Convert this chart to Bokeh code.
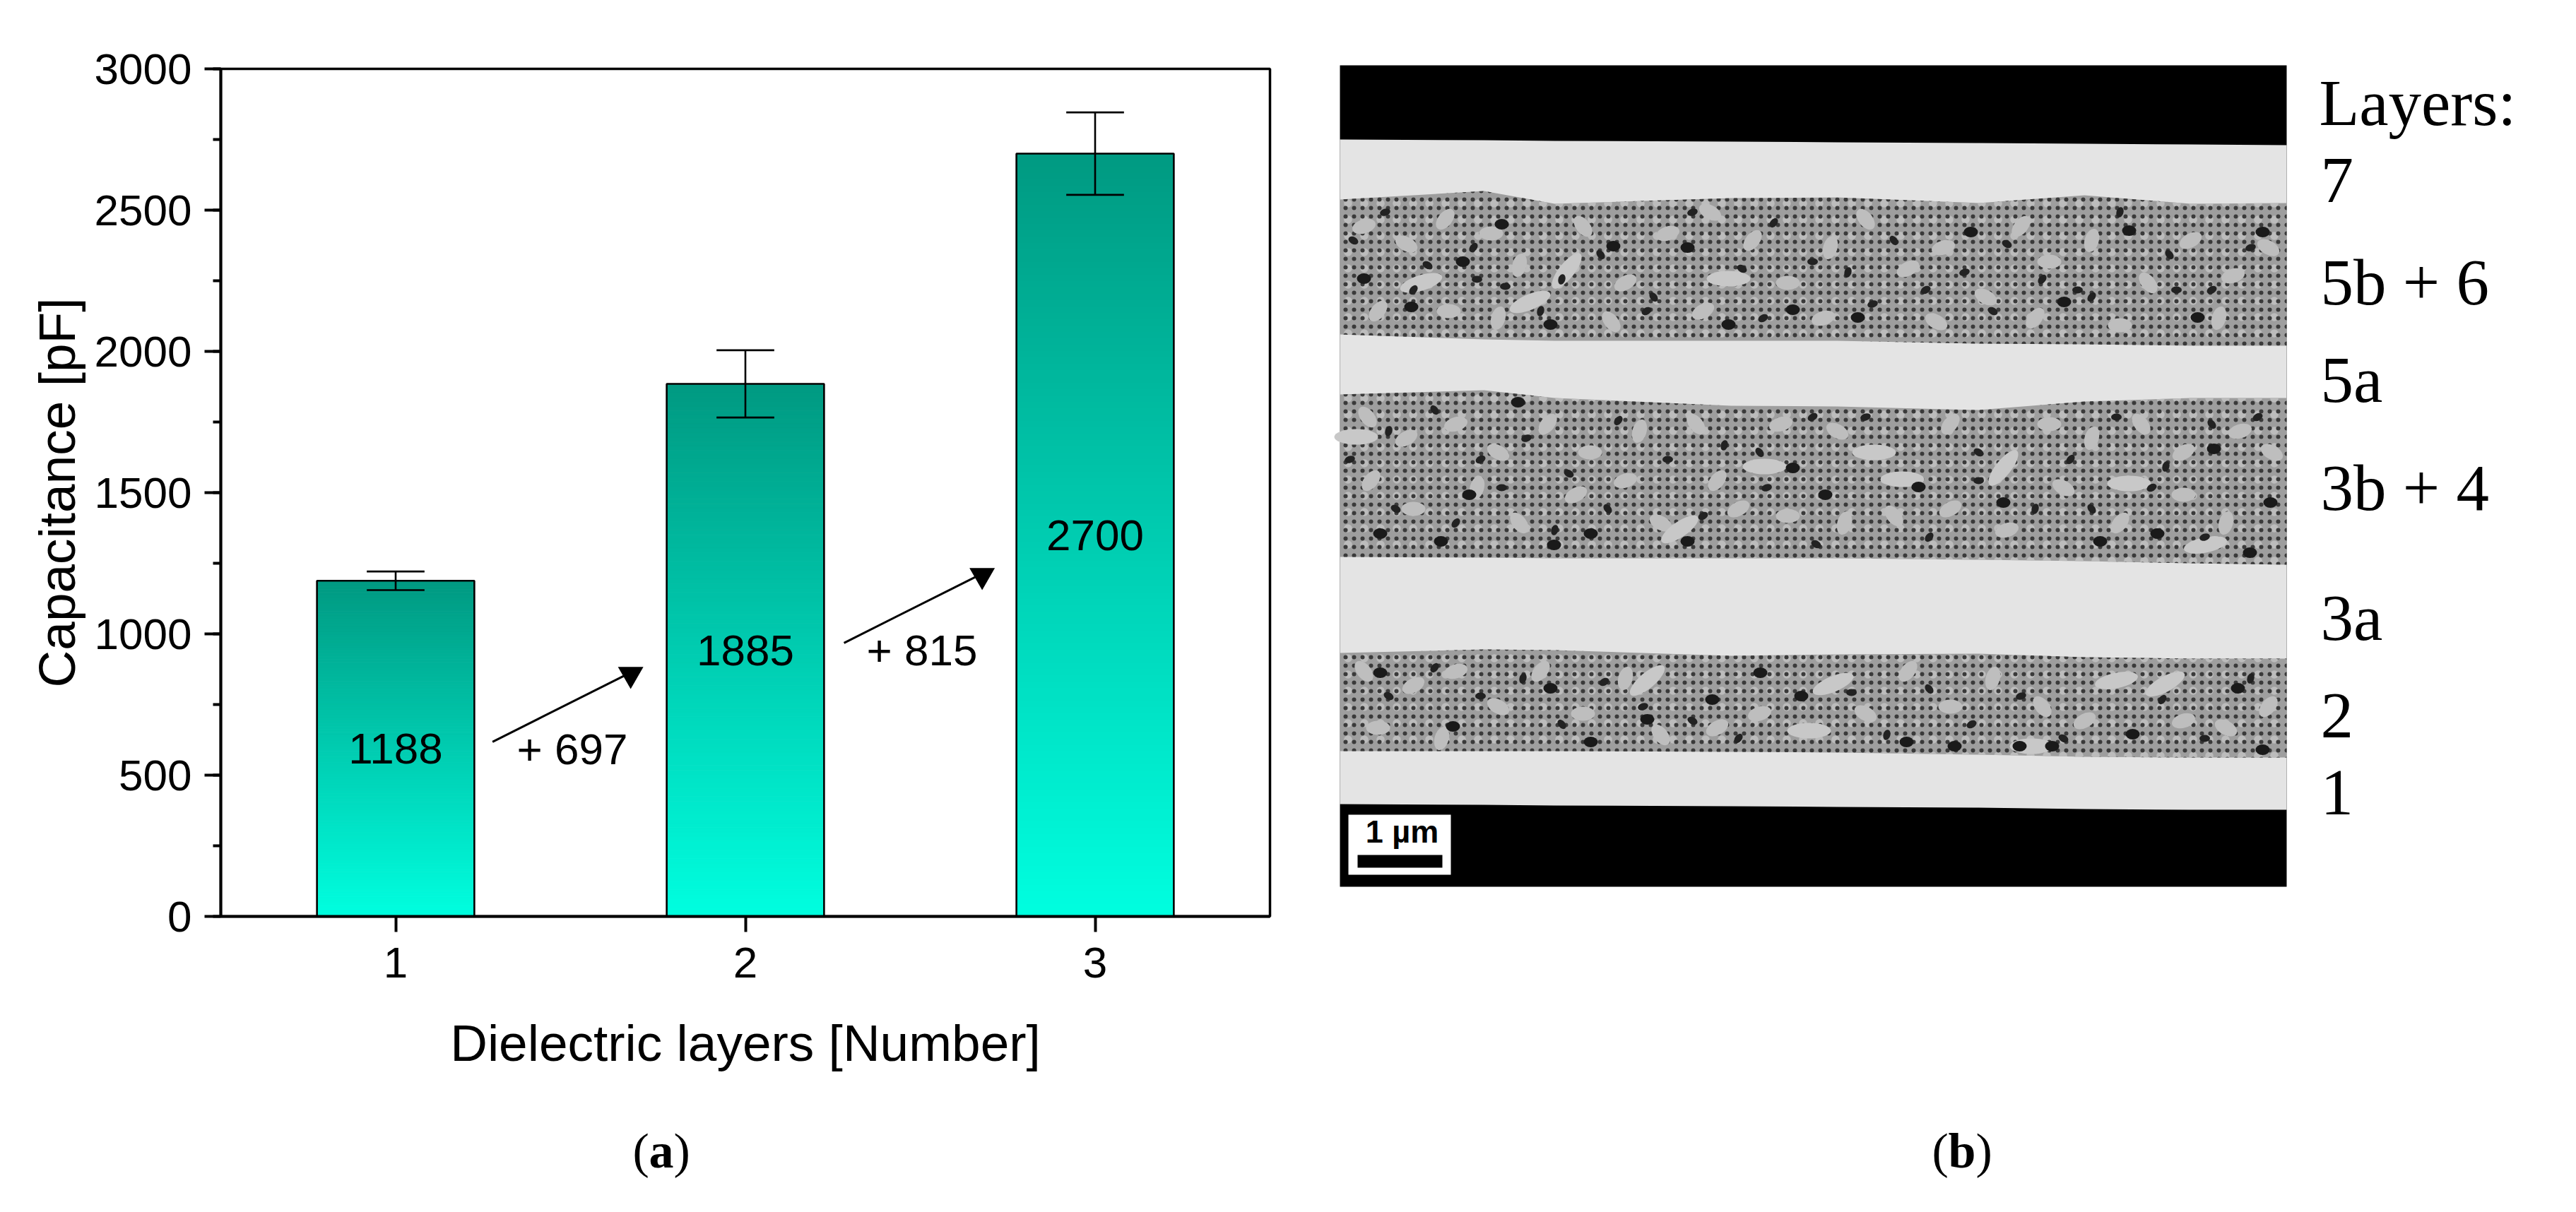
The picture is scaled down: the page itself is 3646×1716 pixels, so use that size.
import numpy as np
from bokeh.plotting import figure
from bokeh.layouts import row, column
from bokeh.models import Range1d, SingleIntervalTicker, FixedTicker
from bokeh.core.properties import value
from bokeh.embed import file_html
from bokeh.resources import INLINE

# ---- panel (a) data ----
layers = [1, 2, 3]
capacitance = [1188, 1885, 2700]
cap_err = [33, 119, 146]
gain_labels = ["+ 697", "+ 815"]
arrow_x0 = [1.277, 2.282]
arrow_y0 = [618, 968]
arrow_x1 = [1.655, 2.660]
arrow_y1 = [853, 1203]
head_x = [1.672, 2.677]
head_y = [857, 1207]
gain_x = [1.505, 2.505]
gain_y = [592, 942]

# ---- panel (b) content, read in picture pixels ----
boundary_x = [1896, 2100, 2200, 2450, 2600, 2800, 2950, 3100, 3236]
black_top_edge = [197, 198, 199, 200, 201, 202, 203, 204, 205]
grain1_top = [282, 270, 288, 280, 279, 287, 276, 288, 287]
grain1_bot = [473, 480, 482, 482, 482, 486, 487, 489, 489]
grain2_top = [558, 552, 563, 574, 575, 580, 568, 563, 563]
grain2_bot = [788, 789, 790, 790, 790, 792, 794, 797, 799]
grain3_top = [924, 919, 920, 928, 926, 925, 930, 932, 932]
grain3_bot = [1063, 1063, 1063, 1064, 1065, 1068, 1071, 1072, 1072]
black_bot_edge = [1138, 1139, 1140, 1141, 1142, 1143, 1145, 1146, 1146]
layer_names = ["Layers:", "7", "5b + 6", "5a", "3b + 4", "3a", "2", "1"]
layer_base = [145, 255, 399, 537, 690, 874, 1013, 1122]
# dark pores and pale flakes seen in the micrograph
pore_x = [2283, 2070, 3013, 1997, 1930, 2446, 2629, 2789, 3202, 2921, 2125, 2537, 2388, 3110, 2194,
          2199, 2537, 3184, 1953, 2039, 2715, 3053, 2972, 2251, 2583, 2079, 2835, 2388, 3133, 2148, 3213,
          2423, 1953, 2766, 2858, 2904, 2698, 2194, 3018, 3167, 2331, 2549, 2056, 2251, 2491, 3202]
pore_y = [348, 370, 326, 434, 394, 459, 449, 328, 328, 427, 317, 438, 350, 449, 459,
          771, 662, 782, 755, 766, 689, 755, 766, 755, 700, 700, 711, 766, 635, 569, 711,
          990, 952, 1056, 1056, 1056, 1050, 974, 1039, 974, 1018, 985, 1028, 1050, 952, 1061]
flake_x = [2165, 2446, 2217, 2497, 2692, 2835, 2652, 3013, 3064, 2331, 2594, 2995, 2560, 2875, 1919, 2377, 3121, 2011]
flake_y = [427, 394, 383, 660, 678, 662, 640, 684, 968, 963, 968, 963, 1034, 1056, 618, 749, 771, 400]
flake_a = [0.4, 0.0, 0.9, 0.0, 0.0, 0.9, 0.0, 0.0, 0.5, 0.7, 0.4, 0.2, 0.0, 0.0, 0.0, 0.6, 0.2, 0.3]
grain_x = [1930, 1990, 2045, 2110, 2150, 2240, 2300, 2360, 2420, 2480, 2530, 2590, 2640, 2700, 2750, 2810, 2860,
           2900, 2960, 3040, 3100, 3160, 3210, 1950, 2050, 2120, 2280, 2410, 2580, 2740, 2880, 3000, 3140,
           1935, 1990, 2060, 2120, 2190, 2250, 2320, 2400, 2460, 2520, 2600, 2760, 2900, 2960, 3030, 3090, 3170,
           3215, 1940, 2000, 2090, 2150, 2230, 2300, 2350, 2430, 2530, 2610, 2680, 2760, 2840, 2920, 3000, 3090, 3150,
           1930, 2000, 2060, 2120, 2180, 2240, 2300, 2350, 2430, 2490, 2640, 2700, 2760, 2820, 2890, 2950, 3090,
           3150, 3210, 1950, 2040]
grain_y = [320, 345, 310, 330, 375, 320, 400, 330, 300, 340, 400, 350, 310, 380, 350, 420, 320,
           370, 340, 400, 340, 390, 350, 440, 440, 450, 455, 440, 450, 455, 450, 460, 450,
           590, 620, 600, 640, 600, 640, 610, 600, 720, 600, 610, 600, 600, 620, 600, 640, 610,
           640, 680, 720, 690, 740, 700, 680, 740, 680, 730, 740, 730, 720, 750, 690, 740, 700, 740,
           950, 970, 950, 1000, 950, 1010, 960, 1040, 1030, 1010, 1010, 950, 1000, 960, 1000, 1020, 1020,
           1030, 1000, 1030, 1045]
speck_x = [1960, 2020, 2085, 2130, 2210, 2265, 2330, 2395, 2465, 2510, 2565, 2615, 2680, 2725, 2780, 2840, 2890,
           2940, 3000, 3070, 3130, 3185, 1915, 2000, 2090, 2180, 2340, 2495, 2650, 2820, 2960, 3080,
           1965, 2030, 2095, 2160, 2220, 2290, 2360, 2440, 2490, 2565, 2640, 2800, 2930, 2995, 3065, 3130, 3195,
           1910, 1975, 2060, 2125, 2200, 2275, 2410, 2500, 2570, 2730, 2800, 2880, 2960, 3045, 3120,
           1965, 2030, 2095, 2155, 2210, 2270, 2325, 2395, 2460, 2620, 2670, 2730, 2790, 2860, 2920, 3060, 3120, 3185]
speck_y = [300, 375, 350, 405, 395, 360, 440, 300, 380, 315, 370, 385, 340, 410, 385, 345, 395,
           410, 300, 360, 410, 350, 340, 410, 395, 440, 420, 450, 430, 440, 420, 410,
           610, 580, 650, 620, 670, 595, 650, 630, 640, 590, 590, 640, 650, 590, 660, 600, 590,
           650, 720, 740, 690, 750, 720, 730, 690, 770, 760, 680, 720, 720, 690, 760,
           985, 945, 985, 960, 1025, 965, 1000, 1020, 1045, 980, 1040, 975, 1025, 985, 1045, 990, 1045, 960]
grain_turn = [0.3, -0.5, 0.9, 0.0, 1.3, -0.9, 0.5]

SANS = "Liberation Sans"
SERIF = "Liberation Serif"
TOP_COL = np.array([0, 154, 130])
BOT_COL = np.array([0, 255, 224])
BAR_W = 0.45
N = 120

p = figure(width=1850, height=1530, output_backend="svg", toolbar_location=None,
           x_range=Range1d(0.5, 3.5), y_range=Range1d(0, 3000),
           min_border_left=312, min_border_right=53, min_border_top=97, min_border_bottom=233)
p.grid.visible = False
p.outline_line_color = "black"
p.outline_line_width = 3.5
p.background_fill_color = "white"
p.border_fill_color = "white"

# gradient bars
for x, v in zip(layers, capacitance):
    edges = np.linspace(0, v, N + 1)
    t = (edges[:-1] + edges[1:]) / 2 / v
    cols = ["#%02x%02x%02x" % tuple(int(c) for c in (BOT_COL + (TOP_COL - BOT_COL) * f)) for f in t]
    p.quad(left=x - BAR_W / 2, right=x + BAR_W / 2, bottom=edges[:-1], top=edges[1:],
           fill_color=cols, line_color=cols, line_width=1)
p.vbar(x=layers, top=capacitance, bottom=0, width=BAR_W, fill_alpha=0,
       line_color="black", line_width=2.6)

# error bars
lo = [v - e for v, e in zip(capacitance, cap_err)]
hi = [v + e for v, e in zip(capacitance, cap_err)]
p.segment(x0=layers, x1=layers, y0=lo, y1=hi, line_color="black", line_width=2.6)
cap = 0.0825
p.segment(x0=[x - cap for x in layers], x1=[x + cap for x in layers], y0=lo, y1=lo, line_color="black", line_width=2.6)
p.segment(x0=[x - cap for x in layers], x1=[x + cap for x in layers], y0=hi, y1=hi, line_color="black", line_width=2.6)

# value labels
p.text(x=layers, y=[v / 2 for v in capacitance], text=[str(v) for v in capacitance],
       text_font=value(SANS), text_font_size="62px", text_align="center", text_baseline="middle", text_color="black")
p.text(x=gain_x, y=gain_y, text=gain_labels, text_font=value(SANS), text_font_size="62px",
       text_align="center", text_baseline="middle", text_color="black")

# arrows
p.segment(x0=arrow_x0, y0=arrow_y0, x1=arrow_x1, y1=arrow_y1, line_color="black", line_width=3)
p.scatter(x=head_x, y=head_y, marker="inverted_triangle", size=36, fill_color="black", line_color="black", line_width=0)

# axes
yax = p.yaxis[0]
yax.ticker = SingleIntervalTicker(interval=500, num_minor_ticks=2)
yax.axis_label = "Capacitance [pF]"
yax.major_tick_out = 23; yax.major_tick_in = 0
yax.minor_tick_out = 11; yax.minor_tick_in = 0
xax = p.xaxis[0]
xax.ticker = FixedTicker(ticks=layers)
xax.axis_label = "Dielectric layers [Number]"
xax.major_tick_out = 22; xax.major_tick_in = 0
for ax in (xax, yax):
    ax.axis_line_width = 4
    ax.axis_line_color = "black"
    ax.major_tick_line_width = 4
    ax.major_tick_line_color = "black"
    ax.minor_tick_line_width = 4
    ax.minor_tick_line_color = "black" if ax is yax else None
    ax.major_label_text_font = SANS
    ax.major_label_text_font_size = "62px"
    ax.major_label_text_color = "black"
    ax.axis_label_text_font = SANS
    ax.axis_label_text_font_size = "73px"
    ax.axis_label_text_font_style = "normal"
    ax.axis_label_text_color = "black"
yax.major_label_standoff = 18
yax.axis_label_standoff = 10
xax.major_label_standoff = 22
xax.axis_label_standoff = 49
yax.major_label_orientation = "horizontal"

# panel letter (a): a strip below the chart
r = figure(width=1850, height=170, output_backend="svg", toolbar_location=None,
           x_range=Range1d(0, 1850), y_range=Range1d(1700, 1530),
           min_border=0, min_border_left=0, min_border_right=0, min_border_top=0, min_border_bottom=0)
r.axis.visible = False
r.grid.visible = False
r.outline_line_color = None
for txt, sx, style in (("(", 895, "normal"), ("a", 918, "bold"), (")", 953, "normal")):
    r.text(x=[sx], y=[1629], text=[txt], text_font=value(SERIF), text_font_size="70px",
           text_font_style=style, text_align="left", text_baseline="alphabetic", text_color="black")

# ---- panel (b) ----
q = figure(width=1780, height=1700, output_backend="svg", toolbar_location=None,
           x_range=Range1d(1850, 3630), y_range=Range1d(1700, 0),
           min_border=0, min_border_left=0, min_border_right=0, min_border_top=0, min_border_bottom=0)
q.axis.visible = False
q.grid.visible = False
q.outline_line_color = None
q.background_fill_color = "white"
q.border_fill_color = "white"

X0, X1, Y0, Y1 = 1896, 3236, 92, 1255
q.quad(left=X0, right=X1, top=Y0, bottom=Y1, fill_color="black", line_color=None)

def band(top, bot, **kw):
    xs = boundary_x + boundary_x[::-1]
    ys = list(top) + list(bot)[::-1]
    q.patch(xs, ys, line_color=None, **kw)

LIGHT = "#e4e4e4"
band(black_top_edge, black_bot_edge, fill_color=LIGHT)
for t, b in ((grain1_top, grain1_bot), (grain2_top, grain2_bot), (grain3_top, grain3_bot)):
    band(t, b, fill_color="#9e9e9e")
    band(t, b, fill_alpha=0, hatch_pattern="dot", hatch_color="#bcbcbc", hatch_scale=23, hatch_weight=6)
    band(t, b, fill_alpha=0, hatch_pattern="dot", hatch_color="#3a3a3a", hatch_scale=12, hatch_weight=2)
turns = [grain_turn[i % len(grain_turn)] for i in range(len(grain_x))]
q.ellipse(x=grain_x, y=grain_y, width=34, height=20, angle=turns, fill_color="#bebebe", line_color=None)
q.ellipse(x=flake_x, y=flake_y, width=62, height=22, angle=flake_a, fill_color="#c8c8c8", line_color=None)
q.ellipse(x=speck_x, y=speck_y, width=15, height=10, angle=turns[:len(speck_x)], fill_color="#222222", line_color=None)
q.ellipse(x=pore_x, y=pore_y, width=20, height=15, fill_color="#1a1a1a", line_color=None)

# scale mark
q.quad(left=1908, right=2053, top=1153, bottom=1238, fill_color="white", line_color=None)
q.quad(left=1921, right=2041, top=1210, bottom=1228, fill_color="black", line_color=None)
q.text(x=[1984], y=[1177], text=["1 µm"], text_font=value(SANS), text_font_style="bold",
       text_font_size="45px", text_align="center", text_baseline="alphabetic", text_color="black")

q.text(x=[3284 if n != "Layers:" else 3282 for n in layer_names], y=layer_base, text=layer_names,
       text_font=value(SERIF), text_font_size="93px", text_align="left",
       text_baseline="alphabetic", text_color="black")
for txt, sx, style in (("(", 2734, "normal"), ("b", 2757, "bold"), (")", 2796, "normal")):
    q.text(x=[sx], y=[1629], text=[txt], text_font=value(SERIF), text_font_size="70px",
           text_font_style=style, text_align="left", text_baseline="alphabetic", text_color="black")

page = row(column(column(p), column(r), spacing=0), column(q), spacing=0)
open("out.html", "w").write(file_html(page, INLINE))
